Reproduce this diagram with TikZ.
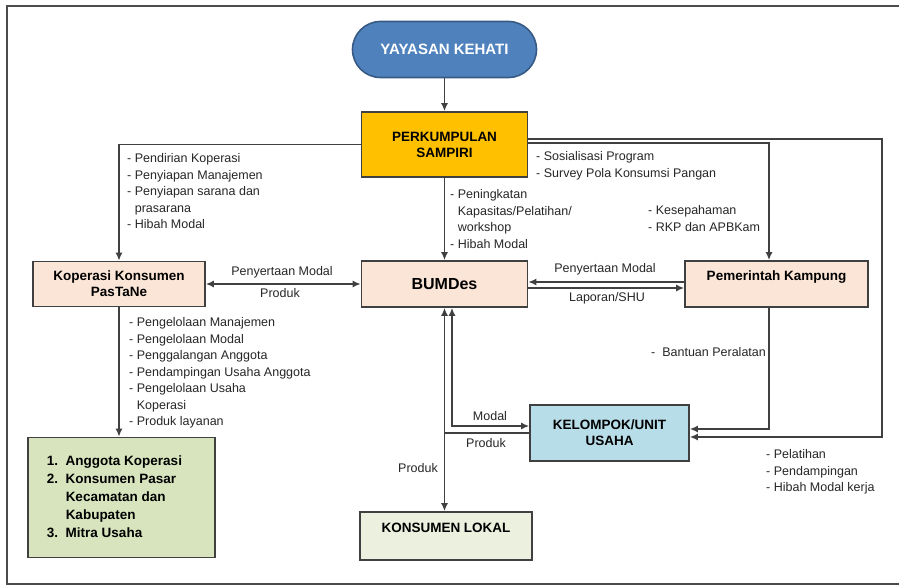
\documentclass[tikz,border=0pt]{standalone}
\usepackage{fontspec}
\setmainfont{Liberation Sans}
\usetikzlibrary{arrows.meta}
\definecolor{kehati}{HTML}{4F81BD}
\definecolor{sampiri}{HTML}{FFC000}
\definecolor{peach}{HTML}{FBE5D6}
\definecolor{usaha}{HTML}{B7DDE8}
\definecolor{lokal}{HTML}{EBF1DE}
\definecolor{anggota}{HTML}{D7E4BD}
\begin{document}
\begin{tikzpicture}[x=1pt,y=-1pt,
  box/.style={draw=black!75, line width=1.6pt, align=center,
    font=\fontsize{13.5}{16}\selectfont\bfseries},
  note/.style={anchor=north west, inner sep=0pt,
    font=\fontsize{12.5}{16.5}\selectfont, text=black!85},
  tag/.style={inner sep=0pt, font=\fontsize{12.5}{15}\selectfont, text=black!85},
  link/.style={draw=black!75, line width=1.7pt},
  arr/.style={link, -{Latex[length=8pt,width=7pt]}},
  arrs/.style={link, {Latex[length=8pt,width=7pt]}-{Latex[length=8pt,width=7pt]}}]
  \useasboundingbox (0,0) rectangle (899,585);
  \draw[line width=2pt, black!70] (899,6) -- (7,6) -- (7,584) -- (899,584);

  % boxes
  \node[box, fill=kehati, draw=kehati!70!black, text=white, rounded corners=28pt,
    minimum width=184pt, minimum height=56pt,
    font=\fontsize{15}{18}\selectfont\bfseries] (kehati) at (444.5,49.5) {YAYASAN KEHATI};
  \node[box, fill=sampiri, minimum width=166pt, minimum height=65pt]
    (sampiri) at (444.5,144.5) {PERKUMPULAN\\SAMPIRI};
  \node[box, fill=peach, minimum width=172pt, minimum height=45pt]
    (koperasi) at (119,284) {Koperasi Konsumen\\PasTaNe};
  \node[box, fill=peach, minimum width=166pt, minimum height=46pt,
    font=\fontsize{16}{19}\selectfont\bfseries] (bumdes) at (444.5,284) {BUMDes};
  \node[box, fill=peach, minimum width=183pt, minimum height=46pt]
    (kampung) at (776.5,284) {Pemerintah Kampung\\\mbox{}};
  \node[box, fill=usaha, minimum width=159pt, minimum height=56pt]
    (kelompok) at (609.5,433) {KELOMPOK/UNIT\\USAHA};
  \node[box, fill=lokal, minimum width=172pt, minimum height=48pt]
    (lokal) at (446,536) {KONSUMEN LOKAL\\\mbox{}};
  \node[box, fill=anggota, minimum width=187pt, minimum height=120pt,
    font=\fontsize{13.5}{18}\selectfont\bfseries] (anggota) at (121.5,497.5)
    {\begin{tabular}{@{}l@{\ \ }l@{\hspace{14pt}}}
      1. & Anggota Koperasi\\
      2. & Konsumen Pasar\\
         & Kecamatan dan\\
         & Kabupaten\\
      3. & Mitra Usaha
    \end{tabular}};

  % connectors
  \draw[arr] (kehati) -- (sampiri);
  \draw[arr] (sampiri.west) -| (koperasi.north);
  \draw[arr] (sampiri) -- (bumdes);
  \draw[arr] ([yshift=1.5pt]sampiri.east) -| ([xshift=-7.5pt]kampung.north);
  \coordinate (outer) at (882,437);
  \draw[arr] ([yshift=5.5pt]sampiri.east) -| (outer) -- ([yshift=-4pt]kelompok.east);
  \draw[arrs] (koperasi) -- (bumdes);
  \draw[arr] ([yshift=2pt]kampung.west) -- ([yshift=2pt]bumdes.east);
  \draw[arr] ([yshift=-4pt]bumdes.east) -- ([yshift=-4pt]kampung.west);
  \draw[arr] ([xshift=-7.5pt]kampung.south) |- ([yshift=4pt]kelompok.east);
  \draw[arrs] ([xshift=7.5pt]bumdes.south) |- ([yshift=7pt]kelompok.west);
  \draw[arrs] (bumdes.south) -- (bumdes.south |- lokal.north);
  \draw[link] (kelompok.west) -- (kelompok.west -| bumdes.south);
  \draw[arr] (koperasi.south) -- (koperasi.south |- anggota.north);

  % labels
  \node[note] (l-pendirian) at (127,151)
    {\begin{tabular}{@{}l@{\ }l@{}}
      - & Pendirian Koperasi\\
      - & Penyiapan Manajemen\\
      - & Penyiapan sarana dan\\
        & prasarana\\
      - & Hibah Modal
    \end{tabular}};
  \node[note] (l-kapasitas) at (450,187)
    {\begin{tabular}{@{}l@{\ }l@{}}
      - & Peningkatan\\
        & Kapasitas/Pelatihan/\\
        & workshop\\
      - & Hibah Modal
    \end{tabular}};
  \node[note] (l-sosialisasi) at (536,149)
    {\begin{tabular}{@{}l@{\ }l@{}}
      - & Sosialisasi Program\\
      - & Survey Pola Konsumsi Pangan
    \end{tabular}};
  \node[note] (l-kesepahaman) at (648,203)
    {\begin{tabular}{@{}l@{\ }l@{}}
      - & Kesepahaman\\
      - & RKP dan APBKam
    \end{tabular}};
  \node[note] (l-pengelolaan) at (129,315)
    {\begin{tabular}{@{}l@{\ }l@{}}
      - & Pengelolaan Manajemen\\
      - & Pengelolaan Modal\\
      - & Penggalangan Anggota\\
      - & Pendampingan Usaha Anggota\\
      - & Pengelolaan Usaha\\
        & Koperasi\\
      - & Produk layanan
    \end{tabular}};
  \node[note] (l-peralatan) at (651,345)
    {\begin{tabular}{@{}l@{\ \ }l@{}}
      - & Bantuan Peralatan
    \end{tabular}};
  \node[note] (l-pelatihan) at (766,447)
    {\begin{tabular}{@{}l@{\ }l@{}}
      - & Pelatihan\\
      - & Pendampingan\\
      - & Hibah Modal kerja
    \end{tabular}};
  \node[tag] (t-modal1) at (282,272) {Penyertaan Modal};
  \node[tag] (t-produk1) at (280,293) {Produk};
  \node[tag] (t-modal2) at (605,269) {Penyertaan Modal};
  \node[tag] (t-laporan) at (607,298) {Laporan/SHU};
  \node[tag] (t-modal3) at (490,416) {Modal};
  \node[tag] (t-produk2) at (486,443) {Produk};
  \node[tag] (t-produk3) at (418,468) {Produk};
\end{tikzpicture}
\end{document}
